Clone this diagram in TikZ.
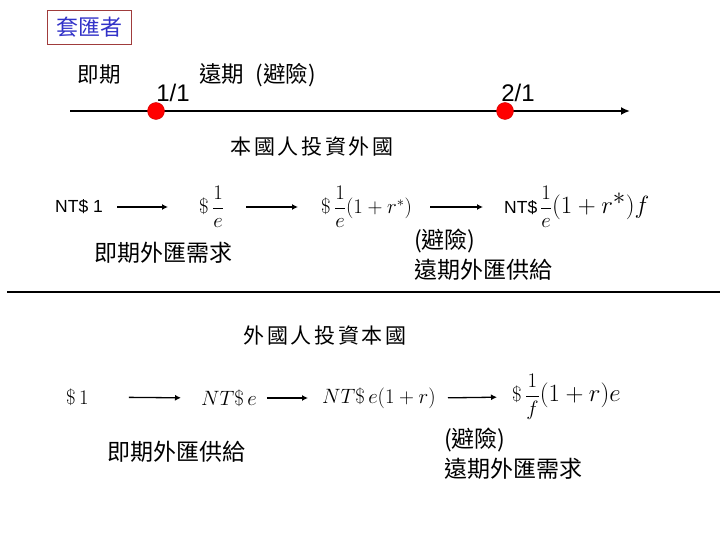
\documentclass[tikz,border=0pt]{standalone}
\usepackage{amsmath,amssymb}
\usepackage{fontspec}
\setmainfont{Liberation Sans}
\newfontfamily\cjk{Noto Sans CJK TC}
\newfontfamily\cjkwide[LetterSpace=12]{Noto Sans CJK TC}
\usepackage{tikz}
\usetikzlibrary{arrows.meta}

\definecolor{boxred}{RGB}{160,60,60}
\definecolor{boxblue}{RGB}{50,50,200}

\begin{document}
\begin{tikzpicture}[x=1pt,y=-1pt,
  zh/.style={font=\cjk\fontsize{21.5}{26}\selectfont,inner sep=0pt},
  zhbig/.style={font=\cjk\fontsize{23}{30}\selectfont,inner sep=0pt},
  head/.style={font=\cjkwide\fontsize{21}{25}\selectfont,inner sep=0pt},
  lbl/.style={font=\fontsize{24}{28}\selectfont,inner sep=0pt},
  amt/.style={font=\fontsize{21.5}{26}\selectfont,inner sep=0pt,anchor=west},
  amtb/.style={font=\fontsize{20}{24}\selectfont,inner sep=0pt,anchor=west},
  flow/.style={-{Latex[length=6pt,width=6pt]},line width=1.3pt},
  dot/.style={circle,fill=red,draw=red!80!black,inner sep=0pt,minimum size=17pt}]
  \useasboundingbox (0,0) rectangle (720,540);
  % title box
  \node[draw=boxred,line width=0.8pt,text=boxblue,inner sep=0pt,minimum width=84pt,minimum height=34pt,font=\cjk\fontsize{22}{26}\selectfont] (title) at (89,27) {套匯者};
  % timeline
  \coordinate (tl0) at (70,111);
  \coordinate (tl1) at (630,111);
  \draw[-{Latex[length=9pt,width=8pt]},line width=2.6pt] (tl0) -- (tl1);
  \node[dot] (d1) at (156,111) {};
  \node[dot] (d2) at (505,111) {};
  \node[lbl] (t1) at (173,93) {1/1};
  \node[lbl] (t2) at (518,93) {2/1};
  \node[zh] (spot) at (99,75) {即期};
  \node[zh,anchor=west,font=\cjk\fontsize{22.5}{26}\selectfont] (fwd) at (199,75) {遠期\hspace{0.5em}(避險)};
  % domestic investing abroad
  \node[head] (h1) at (312,147) {本國人投資外國};
  \node[amt,font=\fontsize{17.5}{21}\selectfont] (a1) at (55,207) {NT\$ 1};
  \node[amt] (a2) at (199,207) {$\$\,\dfrac{1}{e}$};
  \node[amt] (a3) at (321,207) {$\$\,\dfrac{1}{e}(1+r^{*})$};
  \node[amt] (a4) at (504,207) {\fontsize{17.5}{21}\selectfont NT\$\,\fontsize{21.5}{26}\selectfont$\dfrac{1}{e}$\fontsize{34}{39}\selectfont$(1+r^{*})f$};
  \draw[flow,shorten <=14pt,shorten >=31pt] (a1.east) -- (a2.west);
  \draw[flow,shorten <=22pt,shorten >=23pt] (a2.east) -- (a3.west);
  \draw[flow,shorten <=18pt,shorten >=21pt] (a3.east) -- (a4.west);
  \node[zhbig] (dem1) at (163,253) {即期外匯需求};
  \node[zhbig,anchor=west,align=left] (sup1) at (414,255) {(避險)\\遠期外匯供給};
  % divider
  \coordinate (dv0) at (7,292);
  \coordinate (dv1) at (720,292);
  \draw[line width=1.2pt] (dv0) -- (dv1);
  % foreign investing at home
  \node[head] (h2) at (325,336) {外國人投資本國};
  \node[amtb] (b1) at (66,397) {$\$\,1$};
  \node[amtb] (b2) at (201,398) {$NT\$\,e$};
  \node[amtb] (b3) at (322,398) {$NT\$\,e(1+r)$};
  \node[amtb] (b4) at (512,397) {\fontsize{21.5}{26}\selectfont$\$\,\dfrac{1}{f}$\fontsize{29}{34}\selectfont$(1+r)e$};
  \draw[flow,shorten <=40pt,shorten >=20pt] (b1.east) -- (b2.west);
  \draw[flow,shorten <=10pt,shorten >=14pt] (b2.east) -- (b3.west);
  \draw[flow,shorten <=12pt,shorten >=15pt] (b3.east) -- (b4.west);
  \node[zhbig] (sup2) at (176,452) {即期外匯供給};
  \node[zhbig,anchor=west,align=left] (dem2) at (444,454) {(避險)\\遠期外匯需求};
\end{tikzpicture}
\end{document}
